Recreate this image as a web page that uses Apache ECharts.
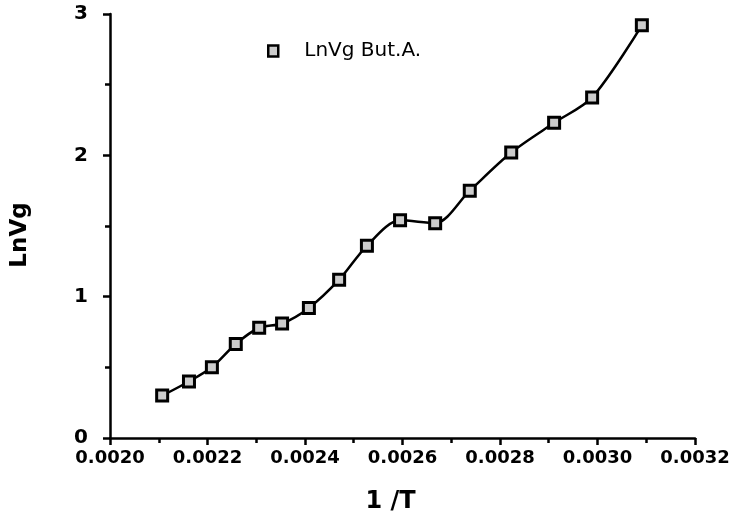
<!DOCTYPE html>
<html>
<head>
<meta charset="utf-8">
<script src="https://cdn.jsdelivr.net/npm/echarts@6/dist/echarts.min.js"></script>
<style>
  html, body { margin: 0; padding: 0; background: #fff; }
  #chart { width: 734px; height: 523px; }
</style>
</head>
<body>
<div id="chart"></div>
<script>
// 1/T values
const invT = [0.002107, 0.002162, 0.002209, 0.002258, 0.002306, 0.002353, 0.002408, 0.002470,
  0.002527, 0.002595, 0.002667, 0.002738, 0.002823, 0.002911, 0.002989, 0.003091]
// LnVg values
const lnVg = [0.30, 0.40, 0.50, 0.665, 0.78, 0.81, 0.92, 1.12,
  1.36, 1.54, 1.52, 1.75, 2.02, 2.23, 2.41, 2.92]
const seriesName = 'LnVg But.A.'

const points = invT.map((x, i) => [x, lnVg[i]])

const chart = echarts.init(document.getElementById('chart'))

const axisFont = {
  color: '#000',
  fontFamily: 'DejaVu Sans',
  fontWeight: 'bold',
  fontSize: 20
}

chart.setOption({
  animation: false,
  grid: {
    left: 110,
    right: 39,
    top: 14,
    bottom: 85
  },
  legend: {
    left: 262,
    top: 36,
    icon: 'rect',
    itemWidth: 10,
    itemHeight: 11,
    itemStyle: { color: '#ccc', borderColor: '#000', borderWidth: 2.5 },
    textStyle: {
      color: '#000',
      fontFamily: 'DejaVu Sans',
      fontSize: 20,
      padding: [0, 0, 0, 21]
    },
    data: [seriesName]
  },
  xAxis: {
    type: 'value',
    min: 0.002,
    max: 0.0032,
    interval: 0.0002,
    name: '1 /T',
    nameLocation: 'middle',
    nameGap: 52,
    nameTextStyle: { ...axisFont, fontSize: 24, padding: [0, 24, 0, 0] },
    axisLine: { lineStyle: { color: '#000', width: 2.5 } },
    axisTick: { length: 7, lineStyle: { color: '#000', width: 2.5 } },
    minorTick: { show: true, splitNumber: 2, length: 5, lineStyle: { color: '#000', width: 2.5 } },
    splitLine: { show: false },
    axisLabel: {
      ...axisFont,
      fontSize: 18,
      margin: 11,
      formatter: (v) => v.toFixed(4)
    }
  },
  yAxis: {
    type: 'value',
    min: 0,
    max: 3,
    interval: 1,
    name: 'LnVg',
    nameLocation: 'middle',
    nameGap: 78,
    nameTextStyle: { ...axisFont, fontSize: 23, padding: [0, 18, 0, 0] },
    axisLine: { show: true, lineStyle: { color: '#000', width: 2.5 } },
    axisTick: { show: true, length: 7, lineStyle: { color: '#000', width: 2.5 } },
    minorTick: { show: true, splitNumber: 2, length: 5, lineStyle: { color: '#000', width: 2.5 } },
    splitLine: { show: false },
    axisLabel: { ...axisFont, margin: 22 }
  },
  series: [
    {
      name: seriesName,
      type: 'line',
      smooth: 0.3,
      symbol: 'rect',
      symbolSize: 11,
      lineStyle: { color: '#000', width: 2.5 },
      itemStyle: { color: '#ccc', borderColor: '#000', borderWidth: 3 },
      data: points
    }
  ]
})
</script>
</body>
</html>
